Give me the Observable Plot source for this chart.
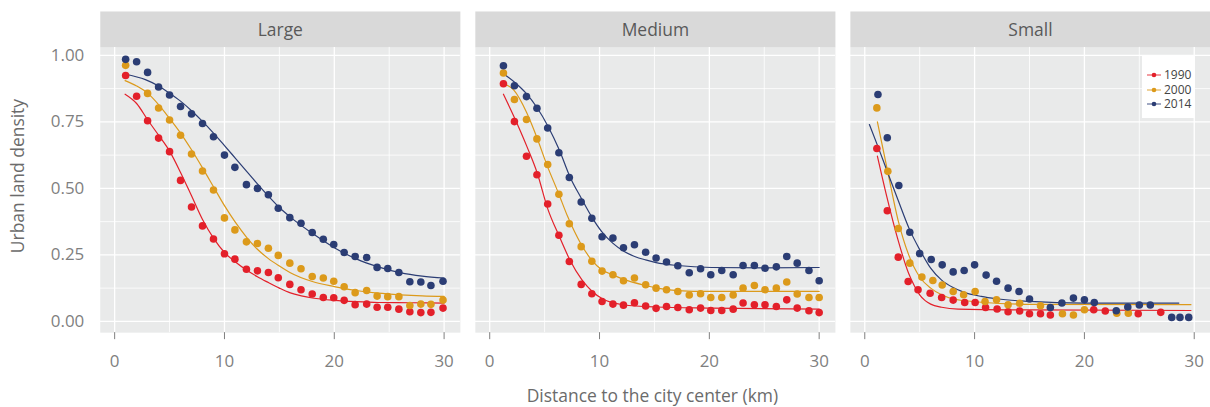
<!DOCTYPE html>
<html><head><meta charset="utf-8">
<script src="https://cdn.jsdelivr.net/npm/d3@7"></script>
<script src="https://cdn.jsdelivr.net/npm/@observablehq/plot@0.6"></script>
<style>
html,body{margin:0;padding:0;overflow:hidden;background:#fff;}
#wrap{position:relative;width:1210px;height:407px;overflow:hidden;}
#legend{position:absolute;left:1142px;top:56px;width:53px;height:62px;background:#fff;font-family:"Open Sans",sans-serif;font-size:12px;color:#444;}
.item{position:absolute;left:4px;height:14px;display:flex;align-items:center;line-height:14px;}
.item svg{margin-right:2px;}
</style></head><body><div id="wrap"></div>
<script>
const panels = ["Large", "Medium", "Small"];
const years = ["1990", "2000", "2014"];
const yearColors = ["#e3202a", "#dc9a1b", "#2b3d74"];
const xMajor = [0, 10, 20, 30];
const xMinor = [5, 15, 25];
const yMajor = [0, 0.25, 0.5, 0.75, 1];
const yMinor = [0.125, 0.375, 0.625, 0.875];

// Large cities
const distLarge = [1,2,3,4,5,6,7,8,9,10,10.95,12,13,14,14.9,15.95,16.97,17.99,19,19.95,20.9,21.9,22.95,23.9,24.87,25.88,26.88,27.88,28.8,29.9];
const large1990 = [0.924,0.846,0.754,0.689,0.638,0.53,0.43,0.359,0.31,0.254,0.234,0.196,0.19,0.184,0.164,0.139,0.119,0.103,0.09,0.089,0.079,0.063,0.065,0.053,0.053,0.046,0.036,0.033,0.034,0.05];
const large2000 = [0.9625,null,0.857,0.802,0.757,0.70,0.629,0.565,0.494,0.389,0.344,0.299,0.293,0.275,0.248,0.219,0.198,0.169,0.163,0.151,0.13,0.108,0.116,0.095,0.093,0.093,0.06,0.065,0.064,0.08];
const large2014 = [0.985,0.976,0.936,0.881,0.851,0.808,0.78,0.744,0.694,0.625,0.579,0.514,0.50,0.476,0.425,0.39,0.369,0.334,0.309,0.289,0.259,0.244,0.24,0.203,0.199,0.184,0.149,0.148,0.135,0.151];

// Medium cities
const distMedium = [1.25,2.25,3.35,4.3,5.28,6.3,7.25,8.33,9.3,10.23,11.22,12.18,13.18,14.2,15.15,16.1,17.13,18.17,19.2,20.13,21.13,22.17,23.07,24.1,25.07,26.1,27.05,28.0,29.07,30.0];
const medium1990 = [0.893,0.751,0.621,0.551,0.441,0.324,0.225,0.139,0.104,0.075,0.065,0.061,0.07,0.058,0.049,0.056,0.0525,0.044,0.05,0.041,0.041,0.046,0.069,0.0625,0.0625,0.056,0.081,0.05,0.04,0.033];
const medium2000 = [0.934,0.834,0.759,0.686,0.59,0.478,0.367,0.281,0.226,0.189,0.175,0.153,0.163,0.138,0.125,0.119,0.1125,0.099,0.104,0.09,0.09,0.099,0.125,0.135,0.119,0.125,0.148,0.103,0.09,0.09];
const medium2014 = [0.961,0.886,0.845,0.801,0.727,0.634,0.541,0.449,0.388,0.318,0.313,0.277,0.288,0.26,0.238,0.223,0.209,0.183,0.198,0.175,0.191,0.175,0.21,0.21,0.2,0.205,0.244,0.219,0.191,0.153];

// Small cities
const distSmall1990 = [1.1,2.05,3.05,3.95,4.85,5.95,7,8.05,9.1,10.05,11,12.05,13.05,14.1,15,16,16.9,20.85,21.9,24.9,26.95];
const small1990 = [0.65,0.416,0.2415,0.15,0.119,0.106,0.09,0.08,0.071,0.071,0.0525,0.0465,0.036,0.039,0.029,0.029,0.024,0.044,0.039,0.029,0.034];
const distSmall2000 = [1.1,2.1,3.05,4.1,5.2,6.2,7.05,8.05,9,10.05,10.95,12,13.05,14.1,16,18,19,20,22.95,24];
const small2000 = [0.8025,0.564,0.349,0.219,0.1665,0.154,0.1365,0.1125,0.1,0.1125,0.075,0.081,0.0625,0.068,0.059,0.029,0.024,0.044,0.031,0.031];
const distSmall2014 = [1.2,2.05,3.1,4.1,5,6.05,7.05,8.05,9.05,10,11.05,12,13.05,14.05,15,16.9,17.95,19,20,20.9,22.9,23.95,25,26,27.95,28.7,29.5];
const small2014 = [0.853,0.69,0.511,0.335,0.255,0.2325,0.2125,0.186,0.191,0.2125,0.174,0.151,0.125,0.1125,0.084,0.0525,0.069,0.0875,0.081,0.071,0.04,0.054,0.0615,0.0615,0.015,0.015,0.015];

// Fitted curves, [distance, density]
const fitLarge1990 = [[0.95,0.854],[2,0.819],[3,0.758],[4,0.70],[5,0.64],[6,0.56],[7,0.472],[8,0.383],[9,0.313],[10,0.259],[11,0.223],[12,0.193],[13,0.168],[14,0.146],[15,0.125],[16,0.107],[17,0.096],[18,0.088],[20,0.079],[22,0.074],[24,0.071],[27,0.07],[30,0.069]];
const fitLarge2000 = [[0.95,0.905],[2,0.885],[3,0.858],[4,0.815],[5,0.763],[6,0.708],[7,0.645],[8,0.577],[9,0.506],[10,0.435],[11,0.372],[12,0.317],[13,0.271],[14,0.236],[15,0.208],[16,0.183],[18,0.15],[20,0.131],[22,0.116],[24,0.106],[26,0.1],[28,0.096],[30,0.094]];
const fitLarge2014 = [[0.95,0.929],[2.8,0.909],[4,0.885],[5,0.858],[6,0.828],[7,0.792],[8,0.752],[9,0.708],[10,0.661],[11,0.613],[12,0.565],[13,0.517],[14,0.471],[15,0.428],[16,0.392],[18,0.331],[20,0.277],[22,0.235],[24,0.205],[26,0.183],[28,0.17],[30,0.163]];
const fitMedium1990 = [[1.25,0.854],[2.15,0.775],[3.4,0.656],[4.34,0.556],[5.27,0.425],[6.34,0.319],[7.3,0.231],[8.4,0.156],[9.34,0.1125],[10.3,0.084],[12.15,0.0625],[15.15,0.054],[20.1,0.05],[30,0.046]];
const fitMedium2000 = [[1.25,0.894],[2.2,0.869],[3.34,0.787],[4.27,0.694],[5.15,0.594],[6.27,0.481],[7.1,0.394],[8.27,0.294],[9.27,0.231],[10.2,0.194],[11.2,0.175],[12.15,0.159],[14.1,0.136],[15.15,0.126],[17.1,0.116],[20,0.1125],[30,0.1125]];
const fitMedium2014 = [[1.25,0.931],[2.4,0.894],[3.34,0.856],[4.27,0.806],[5.34,0.731],[6.34,0.644],[7.3,0.544],[8.34,0.463],[9.27,0.394],[10.2,0.3375],[11.2,0.294],[12.25,0.2625],[13.2,0.244],[14.2,0.231],[15.15,0.221],[17.1,0.21],[20.2,0.2025],[25,0.201],[30,0.2025]];
const fitSmall1990 = [[1.15,0.621],[2,0.47],[3,0.31],[4,0.18],[4.5,0.135],[5,0.1],[5.5,0.078],[6,0.065],[7,0.053],[8.5,0.046],[15,0.043],[29.7,0.041]];
const fitSmall2000 = [[1.15,0.75],[2.06,0.569],[3.03,0.381],[4,0.25],[5,0.167],[6,0.125],[7,0.1],[8,0.085],[10.6,0.072],[15,0.064],[29.7,0.063]];
const fitSmall2014 = [[0.42,0.74],[1.21,0.656],[2.06,0.5625],[3.03,0.456],[4.09,0.344],[5,0.27],[6,0.2],[7,0.155],[8,0.128],[9,0.11],[10.6,0.094],[12,0.085],[15,0.075],[20,0.069],[28.6,0.069]];

const points = [];
function addPoints(panel, year, xs, ys) {
  xs.forEach((x, i) => { if (ys[i] != null) points.push({panel, year, dist: x, density: ys[i]}); });
}
addPoints("Large", "1990", distLarge, large1990);
addPoints("Large", "2000", distLarge, large2000);
addPoints("Large", "2014", distLarge, large2014);
addPoints("Medium", "1990", distMedium, medium1990);
addPoints("Medium", "2000", distMedium, medium2000);
addPoints("Medium", "2014", distMedium, medium2014);
addPoints("Small", "1990", distSmall1990, small1990);
addPoints("Small", "2000", distSmall2000, small2000);
addPoints("Small", "2014", distSmall2014, small2014);

const fits = [];
function addFit(panel, year, pairs) {
  pairs.forEach(([x, y]) => fits.push({panel, year, dist: x, density: y}));
}
addFit("Large", "1990", fitLarge1990);
addFit("Large", "2000", fitLarge2000);
addFit("Large", "2014", fitLarge2014);
addFit("Medium", "1990", fitMedium1990);
addFit("Medium", "2000", fitMedium2000);
addFit("Medium", "2014", fitMedium2014);
addFit("Small", "1990", fitSmall1990);
addFit("Small", "2000", fitSmall2000);
addFit("Small", "2014", fitSmall2014);

const textGrey = "#7f7f7f";
const chart = Plot.plot({
  width: 1213, height: 407,
  marginLeft: 100, marginRight: 0, marginTop: 47, marginBottom: 74,
  style: {fontFamily: "'Open Sans', sans-serif", background: "transparent", overflow: "visible"},
  fx: {domain: panels, paddingInner: 0.04, paddingOuter: 0, axis: null, label: null},
  x: {domain: [-1.31, 31.48]},
  y: {domain: [-0.0424, 1.030]},
  color: {domain: years, range: yearColors},
  marks: [
    Plot.frame({fill: "#e9eaea"}),
    Plot.frame({fill: "#d9d9d9", insetTop: -36, insetBottom: 286}),
    Plot.gridX(xMinor, {stroke: "#fff", strokeOpacity: 1, strokeWidth: 0.8}),
    Plot.gridX(xMajor, {stroke: "#fff", strokeOpacity: 1, strokeWidth: 1.3}),
    Plot.gridY(yMinor, {stroke: "#fff", strokeOpacity: 1, strokeWidth: 0.8}),
    Plot.gridY(yMajor, {stroke: "#fff", strokeOpacity: 1, strokeWidth: 1.3}),
    Plot.text(panels, {fx: d => d, text: d => d, frameAnchor: "top", lineAnchor: "middle", dy: -17, fontSize: 17.5, fill: "#595959"}),
    Plot.axisX({ticks: xMajor, tickSize: 7, tickPadding: 15, fontSize: 17, color: textGrey, label: null}),
    Plot.axisY({ticks: yMajor, tickFormat: d3.format(".2f"), tickSize: 0, tickPadding: 16, fontSize: 17, color: textGrey, label: null}),
    Plot.line(fits, {x: "dist", y: "density", z: "year", stroke: "year", fx: "panel", curve: "monotone-x", strokeWidth: 1.2}),
    Plot.dot(points, {x: "dist", y: "density", fill: "year", fx: "panel", r: 3.8}),
    Plot.text(["Urban land density"], {facet: "super", frameAnchor: "left", textAnchor: "middle", lineAnchor: "middle", rotate: -90, dx: -82, dy: -14, fontSize: 17.5, fill: "#6b6b6b"}),
    Plot.text(["Distance to the city center (km)"], {facet: "super", frameAnchor: "bottom", textAnchor: "middle", lineAnchor: "middle", dx: -3, dy: 64, fontSize: 17.5, fill: "#6b6b6b"})
  ]
});
const wrap = document.getElementById("wrap");
wrap.appendChild(chart);

// legend
const legend = document.createElement("div");
legend.id = "legend";
years.forEach((yr, i) => {
  const item = document.createElement("div");
  item.className = "item";
  item.style.top = (12 + i * 14.6) + "px";
  item.innerHTML = `<svg width="16" height="8"><line x1="1" x2="15" y1="4" y2="4" stroke="${yearColors[i]}" stroke-width="1.1" stroke-opacity="0.8"/><circle cx="8" cy="4" r="2.3" fill="${yearColors[i]}"/></svg><span>${yr}</span>`;
  legend.appendChild(item);
});
wrap.appendChild(legend);
</script>
</body></html>
